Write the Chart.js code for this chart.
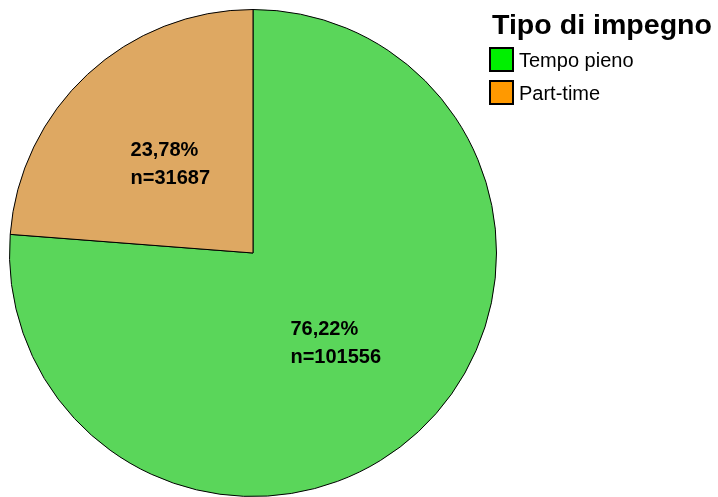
<!DOCTYPE html>
<html>
<head>
<meta charset="utf-8">
<script src="https://cdn.jsdelivr.net/npm/chart.js@4.4.1/dist/chart.umd.min.js"></script>
<style>
    html, body { margin: 0; padding: 0; background: #ffffff; }
    #wrap { width: 718px; height: 497px; position: relative; }
</style>
</head>
<body>
<div id="wrap"><canvas id="pie-chart"></canvas></div>
<script>
// chart data
const categories = ['Tempo pieno', 'Part-time'];
const counts = [101556, 31687];
const sliceColors = ['#5ad65a', '#dea862'];
const legendColors = ['#00f000', '#ff9900'];
const legendTitle = 'Tipo di impegno';

// Draws "xx,xx%" and "n=..." inside each slice
const sliceLabels = {
    id: 'sliceLabels',
    afterDatasetsDraw(chart) {
        const ctx = chart.ctx;
        const meta = chart.getDatasetMeta(0);
        const data = chart.data.datasets[0].data;
        const total = data.reduce((a, b) => a + b, 0);
        ctx.save();
        ctx.font = 'bold 20px "Liberation Sans", Arial, sans-serif';
        ctx.fillStyle = '#000';
        ctx.textAlign = 'left';
        ctx.textBaseline = 'middle';
        meta.data.forEach((arc, i) => {
            const pos = arc.tooltipPosition();
            const lines = [
                (data[i] / total * 100).toFixed(2).replace('.', ',') + '%',
                'n=' + data[i]
            ];
            const w = Math.max(...lines.map(l => ctx.measureText(l).width));
            const left = pos.x - w / 2;
            ctx.fillText(lines[0], left, pos.y - 13);
            ctx.fillText(lines[1], left, pos.y + 15);
        });
        ctx.restore();
    }
};

// Legend drawn top right, like the original
const sideLegend = {
    id: 'sideLegend',
    afterDraw(chart) {
        const ctx = chart.ctx;
        ctx.save();
        ctx.fillStyle = '#000';
        ctx.textAlign = 'left';
        ctx.textBaseline = 'alphabetic';
        ctx.font = 'bold 27px "Liberation Sans", Arial, sans-serif';
        const tw = ctx.measureText(legendTitle).width;
        ctx.save();
        ctx.translate(492, 34);
        ctx.scale(220 / tw, 1);
        ctx.fillText(legendTitle, 0, 0);
        ctx.restore();

        ctx.font = '20px "Liberation Sans", Arial, sans-serif';
        chart.data.labels.forEach((label, i) => {
            const y = 47 + i * 33;
            ctx.fillStyle = legendColors[i];
            ctx.fillRect(489, y, 24, 24);
            ctx.lineWidth = 2;
            ctx.strokeStyle = '#000';
            ctx.strokeRect(490, y + 1, 23, 23);
            ctx.fillStyle = '#000';
            ctx.fillText(label, 519, y + 20);
        });
        ctx.restore();
    }
};

const ctx = document.getElementById('pie-chart').getContext('2d');
new Chart(ctx, {
    type: 'pie',
    data: {
        labels: categories,
        datasets: [{
            data: counts,
            backgroundColor: sliceColors,
            borderColor: '#000000',
            borderWidth: 1,
            hoverOffset: 0
        }]
    },
    options: {
        responsive: true,
        maintainAspectRatio: false,
        animation: false,
        events: [],
        layout: {
            padding: { left: 9, top: 9, right: 221, bottom: 0 }
        },
        plugins: {
            legend: { display: false },
            tooltip: { enabled: false }
        }
    },
    plugins: [sliceLabels, sideLegend]
});
</script>
</body>
</html>
